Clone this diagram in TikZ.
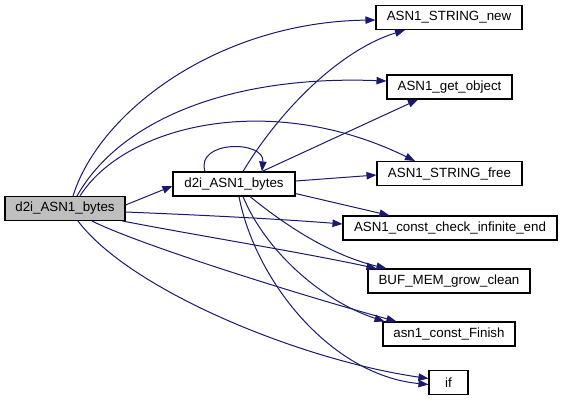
\documentclass[tikz,border=0pt]{standalone}
\usepackage{fontspec}
\setmainfont{Liberation Sans}
\usetikzlibrary{arrows.meta,calc}
\definecolor{edgeblue}{HTML}{191970}
\definecolor{maingray}{HTML}{BFBFBF}
\begin{document}
\begin{tikzpicture}[x=0.75pt,y=-0.75pt,
  fnbox/.style={draw=black,line width=0.8pt,fill=white,minimum height=18pt,inner sep=0pt,font=\fontsize{10pt}{12pt}\selectfont},
  mainbox/.style={fnbox,fill=maingray},
  call/.style={draw=edgeblue,line width=0.75pt,-{Triangle[length=7.5pt,width=5.6pt]},fill=none}]
\useasboundingbox (0,0) rectangle (561,401);
\node[mainbox,minimum width=90pt] (main) at (65,208.5) {d2i\_ASN1\_bytes};
\node[fnbox,minimum width=91.5pt] (d2i) at (234,184) {d2i\_ASN1\_bytes};
\node[fnbox,minimum width=109.5pt] (new) at (449,17.5) {ASN1\_STRING\_new};
\node[fnbox,minimum width=93.75pt] (get) at (449.5,87) {ASN1\_get\_object};
\node[fnbox,minimum width=108.75pt] (free) at (449.5,173.5) {ASN1\_STRING\_free};
\node[fnbox,minimum width=160.5pt] (check) at (450,228) {ASN1\_const\_check\_infinite\_end};
\node[fnbox,minimum width=121.5pt] (buf) at (449,281) {BUF\_MEM\_grow\_clean};
\node[fnbox,minimum width=99pt] (fin) at (449,334) {asn1\_const\_Finish};
\node[fnbox,minimum width=29.25pt] (if) at (448.5,382.5) {if};
% edges from main
\draw[call] ($(main.north)+(8,0)$) .. controls (100,110) and (220,22) .. ($(new.west)+(0,2.5)$);
\draw[call] ($(main.north)+(12,0)$) .. controls (120,120) and (230,75) .. ($(get.west)+(0,-6)$);
\draw[call] ($(main.north)+(15,0)$) .. controls (125,125) and (270,90) .. ($(free.north)+(-34.5,0)$);
\draw[call] ($(main.east)+(0,-3.5)$) -- ($(d2i.west)+(0,2)$);
\draw[call] ($(main.east)+(0,3.5)$) .. controls (200,215) and (280,219) .. ($(check.west)+(0,-4)$);
\draw[call] ($(main.south east)+(-3,0)$) .. controls (200,236) and (300,252) .. ($(buf.north west)+(9,0)$);
\draw[call] ($(main.south)+(27,0)$) .. controls (140,245) and (300,295) .. ($(fin.north west)+(14,0)$);
\draw[call] ($(main.south)+(13,0)$) .. controls (130,290) and (300,360) .. ($(if.west)+(0,-4)$);
% edges from d2i
\draw[call] ($(d2i.north)+(-29,0)$) .. controls (195,140) and (265,140) .. ($(d2i.north)+(28,0)$);
\draw[call] ($(d2i.north)+(9,0)$) .. controls (280,110) and (340,50) .. ($(new.south)+(-44,0)$);
\draw[call] ($(d2i.north)+(28,0)$) -- ($(get.south)+(-31.5,0)$);
\draw[call] ($(d2i.east)+(0,-3)$) -- ($(free.west)+(0,1.5)$);
\draw[call] ($(d2i.south east)+(0,-3)$) -- ($(check.north west)+(47,0)$);
\draw[call] ($(d2i.south)+(16,0)$) .. controls (285,225) and (330,255) .. ($(buf.north west)+(19,0)$);
\draw[call] ($(d2i.south)+(9,0)$) .. controls (265,250) and (320,300) .. ($(fin.north west)+(2,0)$);
\draw[call] ($(d2i.south)+(5,0)$) .. controls (255,280) and (330,375) .. ($(if.west)+(0,2)$);
\end{tikzpicture}
\end{document}
